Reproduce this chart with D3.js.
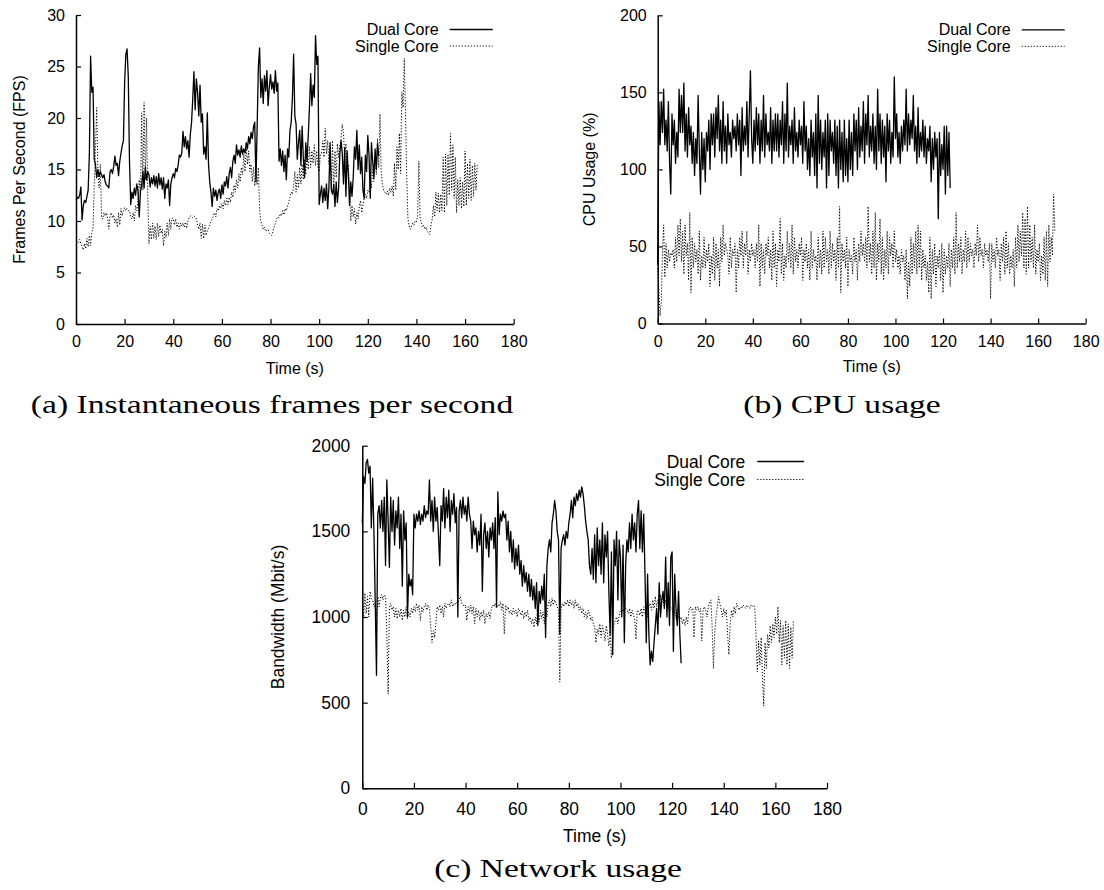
<!DOCTYPE html>
<html>
<head>
<meta charset="utf-8">
<script src="https://cdn.jsdelivr.net/npm/d3@7"></script>
<style>
  body { margin: 0; background: #fff; }
</style>
</head>
<body>
<div id="chart"></div>
<script>
// sampling step of every series (seconds)
var STEP = 0.5;
var timeTicks = [0, 20, 40, 60, 80, 100, 120, 140, 160, 180];
var seriesNames = ["Dual Core", "Single Core"];

// (a) frames per second
var fpsTicks = [0, 5, 10, 15, 20, 25, 30];
var fpsDual = [
  12,12.3,12.2,12.5,13.3,10.1,11.5,12,11.8,12.4,13,16.5,26,22.5,23,16,15.5,14.2,15,14.3,
  14.8,14.5,14.2,14.5,13.8,13.5,13.4,13.2,14.8,15,14.6,15.3,16.3,15.4,15.6,14.4,15.8,16.6,17.3,17.8,
  23.5,26.2,26.7,24,15.8,11.6,12.8,12.2,13.2,12.5,13.6,12.9,10.4,12.8,13.5,14.8,13.2,15.2,14,14.8,
  14.5,13.3,14.2,13.6,14.4,13.4,14.3,13.2,14.6,13.5,14.2,13.1,14.2,12.2,13.6,13.2,14,11.5,13.6,14.2,
  14.6,14.2,15.1,14.8,15.4,16.4,16.2,16.6,18.7,17.2,18.2,17,17.8,16.2,18.4,19.5,21.8,24.5,20.8,23.8,
  22.5,20.2,23.2,19.6,20.4,16.5,17.2,16,20.5,15.5,13.8,12.8,11.4,13.2,12.4,13,12,12.8,13.1,12.2,
  13.5,12.6,13.8,13.4,14.3,13.2,14.6,15.2,14.2,15.8,16.4,15.6,17.4,16.4,16.9,16.2,17.3,16.5,17,16.6,
  17.6,17,18.2,17.5,18.6,18,19.1,19.6,13.8,19.2,25,26.8,22,23.8,21.4,24.1,22.6,24.6,21.2,23,
  24.2,22.8,23.5,22.4,24.6,22.6,23.4,15.8,17,15.4,16.8,14.8,16.4,14,17,16.2,18.8,19.6,22,26.2,
  20.2,19.4,16,17.6,18.8,15.4,19.2,16,14.2,17.6,15.8,18.2,21,24.3,21.2,23.2,22,28,25.2,26,
  11.6,12.6,13.4,11.8,13.2,12,13.6,11.2,13.2,17.6,13,12.6,13.5,11.4,13.8,11.8,13.2,16.5,17.8,16.6,
  13.6,17.1,12.4,16.8,14.5,11.5,13.8,12.4,14.2,17.2,16,18.8,15,17.4,14.6,16.2,13,12.2,16.4,14.8,
  18.3,16.4,12.2,17.6,15.8,14.2,17,15,17.5,16.3
];
var fpsSingle = [
  8.1,8,7.9,8.2,7.8,7.5,7.2,7.8,7.3,8.3,7.5,8.6,7.6,8.9,9.2,13.5,17,21,15,13.2,
  15.5,10.4,10.2,10.8,10.5,10.8,10.3,9.2,10.5,10.8,10.3,10.6,9.8,10.2,9.4,10.8,9.6,11.2,10.5,11,
  11.3,11,11.2,11,11,10.4,10.2,10.8,10,11.5,11,12,14,12.5,20.5,13,21.5,14,20,12.5,
  7.8,9.5,8.2,9.8,8.3,9.5,8.2,9.8,8.5,9.6,8.8,9.2,7.6,9,8.4,9.8,8.6,10.2,9.2,10.3,
  10.2,9.6,10.2,9.4,9.8,9.2,9.8,9.5,9.8,9.4,9.9,9.3,10,10.3,10.5,10.4,10.3,10.5,10.4,10.2,
  9.6,9.2,9.8,8.3,9.7,8.3,9.6,8.6,9,9.3,9.6,10,10.2,10.5,10.8,10.4,11.2,11,11.5,11.2,
  11.7,11.2,12,11.5,12.2,11.6,12.3,11.8,12.8,12.3,13.5,12.8,14,13.2,14.6,13.8,15.2,14.5,16.5,14.8,
  17.2,15.5,16.8,14.8,15.5,13.8,15.2,13.4,14.8,13.5,15.2,11,10,9.6,9.2,9.4,9,9.1,9.2,8.8,
  8.7,8.6,9,9.4,9.8,10.2,10.4,10.3,10.7,10.5,11,10.6,11.2,11,11.5,11.8,12.3,12.8,12.6,13.4,
  14.8,12.8,14.5,13.2,15.2,13.6,15.5,14,16,14.5,16.5,15,17.2,15.2,16.8,15.6,17.4,15.4,16.8,15.2,
  14.8,16.4,16.6,17.8,16.2,19,16.5,17.8,15.5,17.2,13.2,17.8,12.8,16.8,14.2,17.5,16.2,17.2,18,19.4,
  18.6,16.2,17.5,14.8,15.5,13,10,11.5,10.4,11.2,9.7,10.8,10.2,11.4,12,10.8,11.5,12.2,12.6,12.2,
  13,12.8,14,13.2,15,13.8,16.2,14.5,18,15.2,20.4,14.8,13.6,13,12.8,12.6,12.9,12.5,13.2,12.8,
  13.4,12.4,15.6,13,17.2,15,18.5,14.6,22.5,21,25.8,20.5,14.5,10.2,9.6,9.2,9.5,9.8,9.6,10,
  9.9,10.5,15.8,10.4,9.8,9.4,9.6,9.2,9.4,9,8.8,8.7,9.6,10.2,11.5,10.4,12.8,11,12.7,10.8,
  12.6,11,16.2,10.8,16.5,11.5,16.4,12.5,18.5,13,17.4,12.2,16.2,10.8,14,11.5,14.2,11.2,13.8,11.4,
  16.8,11.5,15.6,12.2,16,12,15.4,12.4,15.6,13,15.5
];

// (b) CPU usage
var cpuTicks = [0, 50, 100, 150, 200];
var cpuDual = [
  38,144,116,144,124,152,116,132,112,144,104,84,136,116,132,104,124,108,152,124,
  148,124,156,112,136,108,140,116,128,104,124,96,120,104,148,112,84,124,100,120,
  92,124,112,132,100,136,116,136,108,140,120,148,112,132,104,144,112,128,104,136,
  116,124,108,132,120,128,112,136,116,132,96,140,112,128,116,144,108,136,164,120,
  104,132,112,140,116,136,104,132,112,148,108,136,116,124,112,140,104,132,112,136,
  112,136,108,132,116,144,104,136,112,156,108,128,116,132,104,140,112,124,108,132,
  116,128,104,144,112,128,100,120,96,132,108,124,96,136,88,148,104,132,100,124,
  108,132,88,136,96,132,112,124,104,132,96,128,88,132,100,124,92,132,96,120,
  92,132,100,124,96,136,112,132,100,140,108,128,112,144,104,136,116,148,108,128,
  112,136,104,128,100,152,112,136,104,132,108,128,92,136,112,132,104,124,108,160,
  120,136,108,124,104,128,112,132,116,152,112,136,116,132,120,148,112,128,104,140,
  108,124,112,132,108,128,104,120,112,128,92,120,100,124,108,120,68,124,96,116,
  100,128,84,128,96,124,88
];
var cpuSingle = [
  36,22,5,14,44,64,30,52,36,48,40,46,44,48,36,56,40,64,44,68,
  40,60,32,64,44,52,28,72,20,56,36,52,40,48,32,60,28,44,36,56,
  36,48,40,52,24,44,32,56,28,52,36,48,24,56,40,64,44,52,48,44,
  32,56,36,48,44,52,20,48,36,56,44,60,36,52,44,60,32,48,40,52,
  44,48,36,52,40,64,24,52,36,48,32,52,44,56,36,48,28,60,36,52,
  24,48,40,68,32,52,28,44,36,60,40,52,36,64,32,56,40,48,36,52,
  44,56,28,48,40,52,36,48,28,60,36,48,40,44,28,56,36,48,32,60,
  36,56,40,48,32,60,36,52,40,48,28,56,36,76,20,52,40,48,36,56,
  24,48,40,44,32,56,40,48,28,52,40,60,44,52,40,56,36,76,40,52,
  32,60,36,72,28,52,40,68,32,56,28,48,36,60,32,56,44,52,36,60,
  40,48,36,44,32,48,40,44,28,48,16,40,24,56,32,52,36,60,32,64,
  36,60,28,48,36,44,28,40,20,56,16,48,32,52,24,44,36,48,28,52,
  20,48,32,44,36,52,24,48,36,56,32,72,36,52,40,56,32,48,40,60,
  36,56,40,52,44,48,36,52,44,64,40,56,44,48,36,52,44,48,40,52,
  16,52,40,48,36,56,44,48,28,52,40,56,32,60,36,52,32,44,36,48,
  24,56,36,64,40,60,44,72,36,68,32,76,36,64,40,56,36,64,32,48,
  40,52,28,44,32,56,28,60,24,64,40,56,44,84,60
];

// (c) network usage
var bwTicks = [0, 500, 1000, 1500, 2000];
var bwDual = [
  1550,1820,1780,1900,1920,1840,1880,1520,1810,1500,1100,660,1600,1650,1520,1680,1500,1700,1300,1800,
  1560,1290,1700,1500,1680,1420,1620,1520,1700,1400,1600,1180,1620,1450,1550,1000,1250,1180,1220,1130,
  1600,1520,1600,1560,1620,1540,1600,1560,1650,1580,1620,1600,1800,1560,1680,1500,1700,1560,1640,1480,
  1300,1650,1560,1750,1520,1700,1580,1740,1500,1680,1600,1720,1550,1640,1000,1620,1680,1580,1700,1600,
  1650,1560,1700,1600,1560,1400,1560,1480,1520,1380,1500,1420,1600,1150,1480,1550,1400,1500,1350,1520,
  1450,1550,1400,1580,1060,1730,1480,1600,1560,1620,1580,1600,1450,1560,1380,1500,1320,1450,1280,1400,
  1300,1420,1250,1330,1180,1300,1200,1260,1150,1250,1120,1220,1100,1180,1050,1200,950,1150,1080,1180,
  1100,1250,880,1300,1400,1450,1380,1550,1600,1680,1620,1500,1450,900,1400,1450,1480,1420,1500,1460,
  1550,1600,1680,1580,1700,1650,1720,1680,1740,1700,1760,1720,1650,1560,1500,1450,1300,1250,1400,1220,
  1480,1200,1520,1300,1450,1250,1550,1200,1480,1350,1500,1150,900,1380,780,1450,1300,1500,1100,1450,
  1350,1000,1420,850,1300,1450,1380,1550,1400,1600,1450,1550,1380,1600,1680,1400,1620,1380,1600,1250,
  850,1250,900,720,800,740,850,950,1050,900,1200,1000,1100,1150,1050,1350,1000,1200,950,1350,
  1380,800,1250,1050,950,1150,900,730
];
var bwSingle = [
  1150,1000,1140,1020,1120,1000,1150,1110,1100,1060,1080,1000,1120,1060,1110,1130,1100,1130,1120,900,
  550,1060,1080,1040,1060,1000,1050,990,1040,1000,1050,980,1040,1000,1060,990,1030,1000,1050,1020,
  1060,1030,1080,1040,1070,980,1060,1030,1060,1080,1040,1070,1050,950,850,920,880,960,1060,1040,
  1070,1020,1060,1000,1080,1050,1070,1080,1060,1100,1060,1080,1070,1090,1080,1100,1120,1080,1070,1060,
  1070,980,1060,1030,1070,1020,1060,960,1050,1000,1040,980,1030,1000,1040,960,1020,1000,1030,990,
  1050,1070,1060,1080,1050,1070,1060,1090,1040,1080,900,1070,1040,1060,1020,1040,1010,1050,1020,1040,
  1000,1050,1030,1010,1040,990,1030,1000,1040,980,1000,960,990,940,1000,960,1050,970,1040,990,
  1030,960,1050,1000,1080,1100,1060,1110,1070,1100,1080,1060,1040,620,1050,1080,1060,1090,1070,1100,
  1060,1100,1070,1090,1050,1100,1060,1080,1040,1060,1020,1050,1000,1030,990,1040,1020,980,1000,960,
  940,850,930,900,960,880,950,920,860,950,900,830,920,760,880,960,980,1000,960,1010,
  1040,1050,1030,1060,1050,1040,1020,1050,1000,1040,1010,990,870,1040,1030,1010,1050,1000,1060,1020,
  1050,1000,1060,1080,1040,1100,1050,1120,1060,1100,1040,1130,1080,1120,1060,1100,1040,1080,1030,1060,
  1050,1000,1040,990,1020,1000,980,1000,960,990,950,1000,960,1040,1060,1040,1050,880,1060,1040,
  1060,1030,1050,860,1040,1060,1040,1000,1060,1080,1100,950,700,900,1000,1060,1120,1080,1040,1000,
  1050,1010,1040,900,780,950,1040,1000,1060,1020,1080,1060,1040,1060,1050,1070,1060,1050,1070,1060,
  1050,1070,1060,1070,1060,900,680,860,720,880,650,480,850,700,900,820,950,850,960,880,
  1000,900,1060,850,980,720,950,760,980,720,960,700,940,760,980
];

var FONT = "'Liberation Sans', Arial, Helvetica, sans-serif";
var SERIF = "'Liberation Serif', 'Times New Roman', serif";

var panels = [
  { dual: fpsDual, single: fpsSingle, yMax: 30, yTicks: fpsTicks,
    ylabel: "Frames Per Second (FPS)", caption: "(a) Instantaneous frames per second",
    left: 76, right: 513.7, top: 15, bottom: 324, k: 1,
    ylabelX: 19, capX: 272, capY: 413, xPad: 12, xTitle: 44 },
  { dual: cpuDual, single: cpuSingle, yMax: 200, yTicks: cpuTicks,
    ylabel: "CPU Usage (%)", caption: "(b) CPU usage",
    left: 657.7, right: 1085.7, top: 15.3, bottom: 323.5, k: 1,
    ylabelX: 589.5, capX: 842, capY: 413, xPad: 12, xTitle: 43 },
  { dual: bwDual, single: bwSingle, yMax: 2000, yTicks: bwTicks,
    ylabel: "Bandwidth (Mbit/s)", caption: "(c) Network usage",
    left: 362.3, right: 827, top: 445.7, bottom: 788.3, k: 1.09,
    ylabelX: 278, capX: 558, capY: 877, xPad: 14, xTitle: 48 }
];

var svg = d3.select("#chart").append("svg")
    .attr("width", 1104)
    .attr("height", 890)
    .style("background", "#fff");

panels.forEach(function (p) {
  var k = p.k, fs = 16 * k;
  var x = d3.scaleLinear().domain([0, 180]).range([p.left, p.right]);
  var y = d3.scaleLinear().domain([0, p.yMax]).range([p.bottom, p.top]);
  var g = svg.append("g");

  var line = d3.line()
      .x(function (d, i) { return x(i * STEP); })
      .y(function (d) { return y(d); });

  g.append("path").datum(p.single)
      .attr("d", line)
      .attr("fill", "none")
      .attr("stroke", "#000")
      .attr("stroke-width", 1)
      .attr("stroke-dasharray", "1.2,1.8");

  g.append("path").datum(p.dual)
      .attr("d", line)
      .attr("fill", "none")
      .attr("stroke", "#000")
      .attr("stroke-width", 1.3)
      .attr("stroke-linejoin", "round");

  var ya = g.append("g")
      .attr("transform", "translate(" + p.left + ",0)")
      .call(d3.axisLeft(y).tickValues(p.yTicks).tickSizeInner(-5 * k).tickSizeOuter(0)
            .tickPadding(11 * k).tickFormat(d3.format("d")));
  var xa = g.append("g")
      .attr("transform", "translate(0," + p.bottom + ")")
      .call(d3.axisBottom(x).tickValues(timeTicks).tickSizeInner(-5 * k).tickSizeOuter(0)
            .tickPadding(p.xPad).tickFormat(d3.format("d")));

  [ya, xa].forEach(function (a) {
    a.attr("font-size", fs).attr("font-family", FONT);
    a.select(".domain").attr("stroke", "#000").attr("stroke-width", 1.5);
    a.selectAll(".tick line").attr("stroke", "#000").attr("stroke-width", 1.2);
    a.selectAll(".tick text").attr("fill", "#000");
  });

  g.append("text")
      .attr("transform", "translate(" + p.ylabelX + "," + ((p.top + p.bottom) / 2) + ") rotate(-90)")
      .attr("text-anchor", "middle")
      .attr("dy", "0.35em")
      .attr("font-family", FONT)
      .attr("font-size", fs)
      .text(p.ylabel);

  g.append("text")
      .attr("x", (p.left + p.right) / 2)
      .attr("y", p.bottom + p.xTitle)
      .attr("text-anchor", "middle")
      .attr("dy", "0.35em")
      .attr("font-family", FONT)
      .attr("font-size", fs)
      .text("Time (s)");

  // legend
  var lineEnd = p.right - 21 * k, lineStart = lineEnd - 43 * k;
  seriesNames.forEach(function (name, i) {
    var ly = p.top + (14.5 + 16.5 * i) * k;
    g.append("text")
        .attr("x", lineStart - 11 * k)
        .attr("y", ly)
        .attr("dy", "0.35em")
        .attr("text-anchor", "end")
        .attr("font-family", FONT)
        .attr("font-size", fs)
        .text(name);
    g.append("line")
        .attr("x1", lineStart).attr("x2", lineEnd)
        .attr("y1", ly).attr("y2", ly)
        .attr("stroke", "#000")
        .attr("stroke-width", i === 0 ? 1.3 : 1)
        .attr("stroke-dasharray", i === 0 ? null : "1.2,1.8");
  });

  svg.append("text")
      .attr("transform", "translate(" + p.capX + "," + p.capY + ") scale(1.29,1)")
      .attr("text-anchor", "middle")
      .attr("font-family", SERIF)
      .attr("font-size", 26)
      .text(p.caption);
});
</script>
</body>
</html>
